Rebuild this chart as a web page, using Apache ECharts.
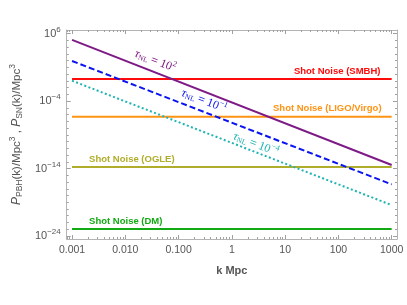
<!DOCTYPE html>
<html>
<head>
<meta charset="utf-8">
<script src="https://cdn.jsdelivr.net/npm/echarts@6/dist/echarts.min.js"></script>
<style>html,body{margin:0;padding:0;background:#fff}#c{width:407px;height:305px}</style>
</head>
<body>
<div id="c"></div>
<script>
// ---- data ----
const kEnds = [0.001, 1000];
const tauNL100 = [1.2e5, 3.3e-14];      // tau_NL = 10^2
const tauNL01 = [8.9e1, 4.5e-17];       // tau_NL = 10^-1
const tauNL0001 = [1.07e-1, 3.8e-20];   // tau_NL = 10^-4
const shotSMBH = 0.19;
const shotLIGO = 4.9e-7;
const shotOGLE = 1.7e-14;
const shotDM = 1.05e-23;
const xTickValues = [0.001, 0.01, 0.1, 1, 10, 100, 1000];
const xTickLabels = ['0.001', '0.010', '0.100', '1', '10', '100', '1000'];
const yTickExponents = [-24, -14, -4, 6];

// ---- helpers ----
const L = Math.log10;
const pts = (ys) => kEnds.map((k, i) => [L(k), L(ys[i])]);
const flat = (v) => kEnds.map(k => [L(k), L(v)]);
const xMajor = xTickValues.map(v => Math.round(L(v)));
const xMinor = [];
for (let n = -4; n <= 3; n++) for (let m = 2; m <= 9; m++) xMinor.push(L(m * Math.pow(10, n)));
const yMinor = [];
for (let e = -25; e <= 7; e++) yMinor.push(e);
const XMIN = -3.1, XMAX = 3.1, YMIN = -24.45, YMAX = 6.55;
const frameColor = '#b4b4b4';
const tickColor = '#a0a0a0';
const txt = '#555';

function xAxisCfg(pos, ticks, len, withLine, withLabel) {
  const a = {
    type: 'value', position: pos, min: XMIN, max: XMAX,
    axisLine: { show: withLine, onZero: false, lineStyle: { color: frameColor, width: 1 } },
    axisTick: { show: true, inside: true, length: len, customValues: ticks, lineStyle: { color: tickColor, width: 1 } },
    axisLabel: { show: withLabel },
    splitLine: { show: false }
  };
  if (withLabel) {
    a.axisLabel = {
      show: true, customValues: xMajor, margin: 6,
      color: txt, fontSize: 10.5, fontFamily: 'Liberation Sans, Arial, sans-serif',
      formatter: v => xTickLabels[xMajor.indexOf(Math.round(v))]
    };
    a.name = 'k Mpc';
    a.nameLocation = 'middle';
    a.nameGap = 26;
    a.nameTextStyle = { color: txt, fontSize: 11, fontWeight: 'bold', fontFamily: 'Liberation Sans, Arial, sans-serif' };
  }
  return a;
}
function yAxisCfg(pos, ticks, len, withLine, withLabel) {
  const a = {
    type: 'value', position: pos, min: YMIN, max: YMAX,
    axisLine: { show: withLine, onZero: false, lineStyle: { color: frameColor, width: 1 } },
    axisTick: { show: true, inside: true, length: len, customValues: ticks, lineStyle: { color: tickColor, width: 1 } },
    axisLabel: { show: withLabel },
    splitLine: { show: false }
  };
  if (withLabel) {
    a.axisLabel = {
      show: true, customValues: yTickExponents, margin: 6,
      formatter: v => '{b|10}{s|' + (v < 0 ? '\u2212' + Math.abs(v) : v) + '}',
      rich: {
        b: { color: txt, fontSize: 11, fontFamily: 'Liberation Sans, Arial, sans-serif' },
        s: { color: txt, fontSize: 8, fontFamily: 'Liberation Sans, Arial, sans-serif', padding: [0, 0, 8, 0] }
      }
    };
    a.name = '{i|P}{sub|PBH}{n|(k)/Mpc}{sup|3}{n| , }{i|P}{sub|SN}{n|(k)/Mpc}{sup|3}';
    a.nameLocation = 'middle';
    a.nameGap = 40;
    const ff = 'Liberation Sans, Arial, sans-serif';
    a.nameTextStyle = {
      rich: {
        i: { color: txt, fontSize: 12, fontStyle: 'italic', fontFamily: ff },
        n: { color: txt, fontSize: 11.5, fontFamily: ff },
        sub: { color: txt, fontSize: 8.5, fontFamily: ff, padding: [6, 0, 0, 0] },
        sup: { color: txt, fontSize: 8.5, fontFamily: ff, padding: [0, 0, 8, 0] }
      }
    };
  }
  return a;
}

const serif = 'Liberation Serif, DejaVu Serif, serif';
function tauLabel(color, exp, coord, rot) {
  return {
    symbol: 'circle', symbolSize: 0, silent: true,
    data: [{ coord: coord }],
    label: {
      show: true, position: 'inside', rotate: rot,
      formatter: '{t|\u03C4}{sub|NL}{n| = 10}{sup|' + exp + '}',
      rich: {
        t: { color: color, fontSize: 12, fontStyle: 'italic', fontFamily: serif },
        sub: { color: color, fontSize: 7.5, fontFamily: serif, padding: [5, 0, 0, 0] },
        n: { color: color, fontSize: 12, fontFamily: serif },
        sup: { color: color, fontSize: 8, fontFamily: serif, padding: [0, 0, 8, 0] }
      }
    }
  };
}
function shotLabel(color, text, coord, align) {
  return {
    symbol: 'circle', symbolSize: 0, silent: true,
    data: [{ coord: coord }],
    label: {
      show: true, position: 'inside', align: align, verticalAlign: 'middle',
      formatter: text, color: color, fontSize: 9.5, fontWeight: 'bold',
      fontFamily: 'Liberation Sans, Arial, sans-serif'
    }
  };
}

const purple = '#7e1a86', blue = '#0a14f0', teal = '#1fb3b3';
const red = '#ff0a0a', orange = '#ff9314', olive = '#b0ad2a', green = '#12aa12';

const chart = echarts.init(document.getElementById('c'), null, { renderer: 'canvas' });
chart.setOption({
  animation: false,
  backgroundColor: '#fff',
  grid: { left: 60, right: 10, top: 30, bottom: 66, containLabel: false },
  xAxis: [
    xAxisCfg('bottom', xMajor, 4, true, true),
    xAxisCfg('bottom', xMinor, 2, false, false),
    xAxisCfg('top', xMajor, 4, true, false),
    xAxisCfg('top', xMinor, 2, false, false)
  ],
  yAxis: [
    yAxisCfg('left', yTickExponents, 4, true, true),
    yAxisCfg('left', yMinor, 2, false, false),
    yAxisCfg('right', yTickExponents, 4, true, false),
    yAxisCfg('right', yMinor, 2, false, false)
  ],
  series: [
    { type: 'line', data: flat(shotSMBH), symbol: 'none', lineStyle: { color: red, width: 2 },
      markPoint: shotLabel(red, 'Shot Noise (SMBH)', [2.79, 0.47], 'right') },
    { type: 'line', data: flat(shotLIGO), symbol: 'none', lineStyle: { color: orange, width: 2 },
      markPoint: shotLabel(orange, 'Shot Noise (LIGO/Virgo)', [2.81, -5.02], 'right') },
    { type: 'line', data: flat(shotOGLE), symbol: 'none', lineStyle: { color: olive, width: 2 },
      markPoint: shotLabel(olive, 'Shot Noise (OGLE)', [-2.68, -12.58], 'left') },
    { type: 'line', data: flat(shotDM), symbol: 'none', lineStyle: { color: green, width: 2 },
      markPoint: shotLabel(green, 'Shot Noise (DM)', [-2.68, -21.78], 'left') },
    { type: 'line', data: pts(tauNL100), symbol: 'none', lineStyle: { color: purple, width: 2 },
      markPoint: tauLabel(purple, '2', [-1.44, 1.95], -21) },
    { type: 'line', data: pts(tauNL01), symbol: 'none', lineStyle: { color: blue, width: 2, type: [6, 3] },
      markPoint: tauLabel(blue, '\u22121', [-0.52, -3.98], -21) },
    { type: 'line', data: pts(tauNL0001), symbol: 'none', lineStyle: { color: teal, width: 2, type: [2, 2.4] },
      markPoint: tauLabel(teal, '\u22124', [0.45, -10.4], -21) }
  ]
});
</script>
</body>
</html>
